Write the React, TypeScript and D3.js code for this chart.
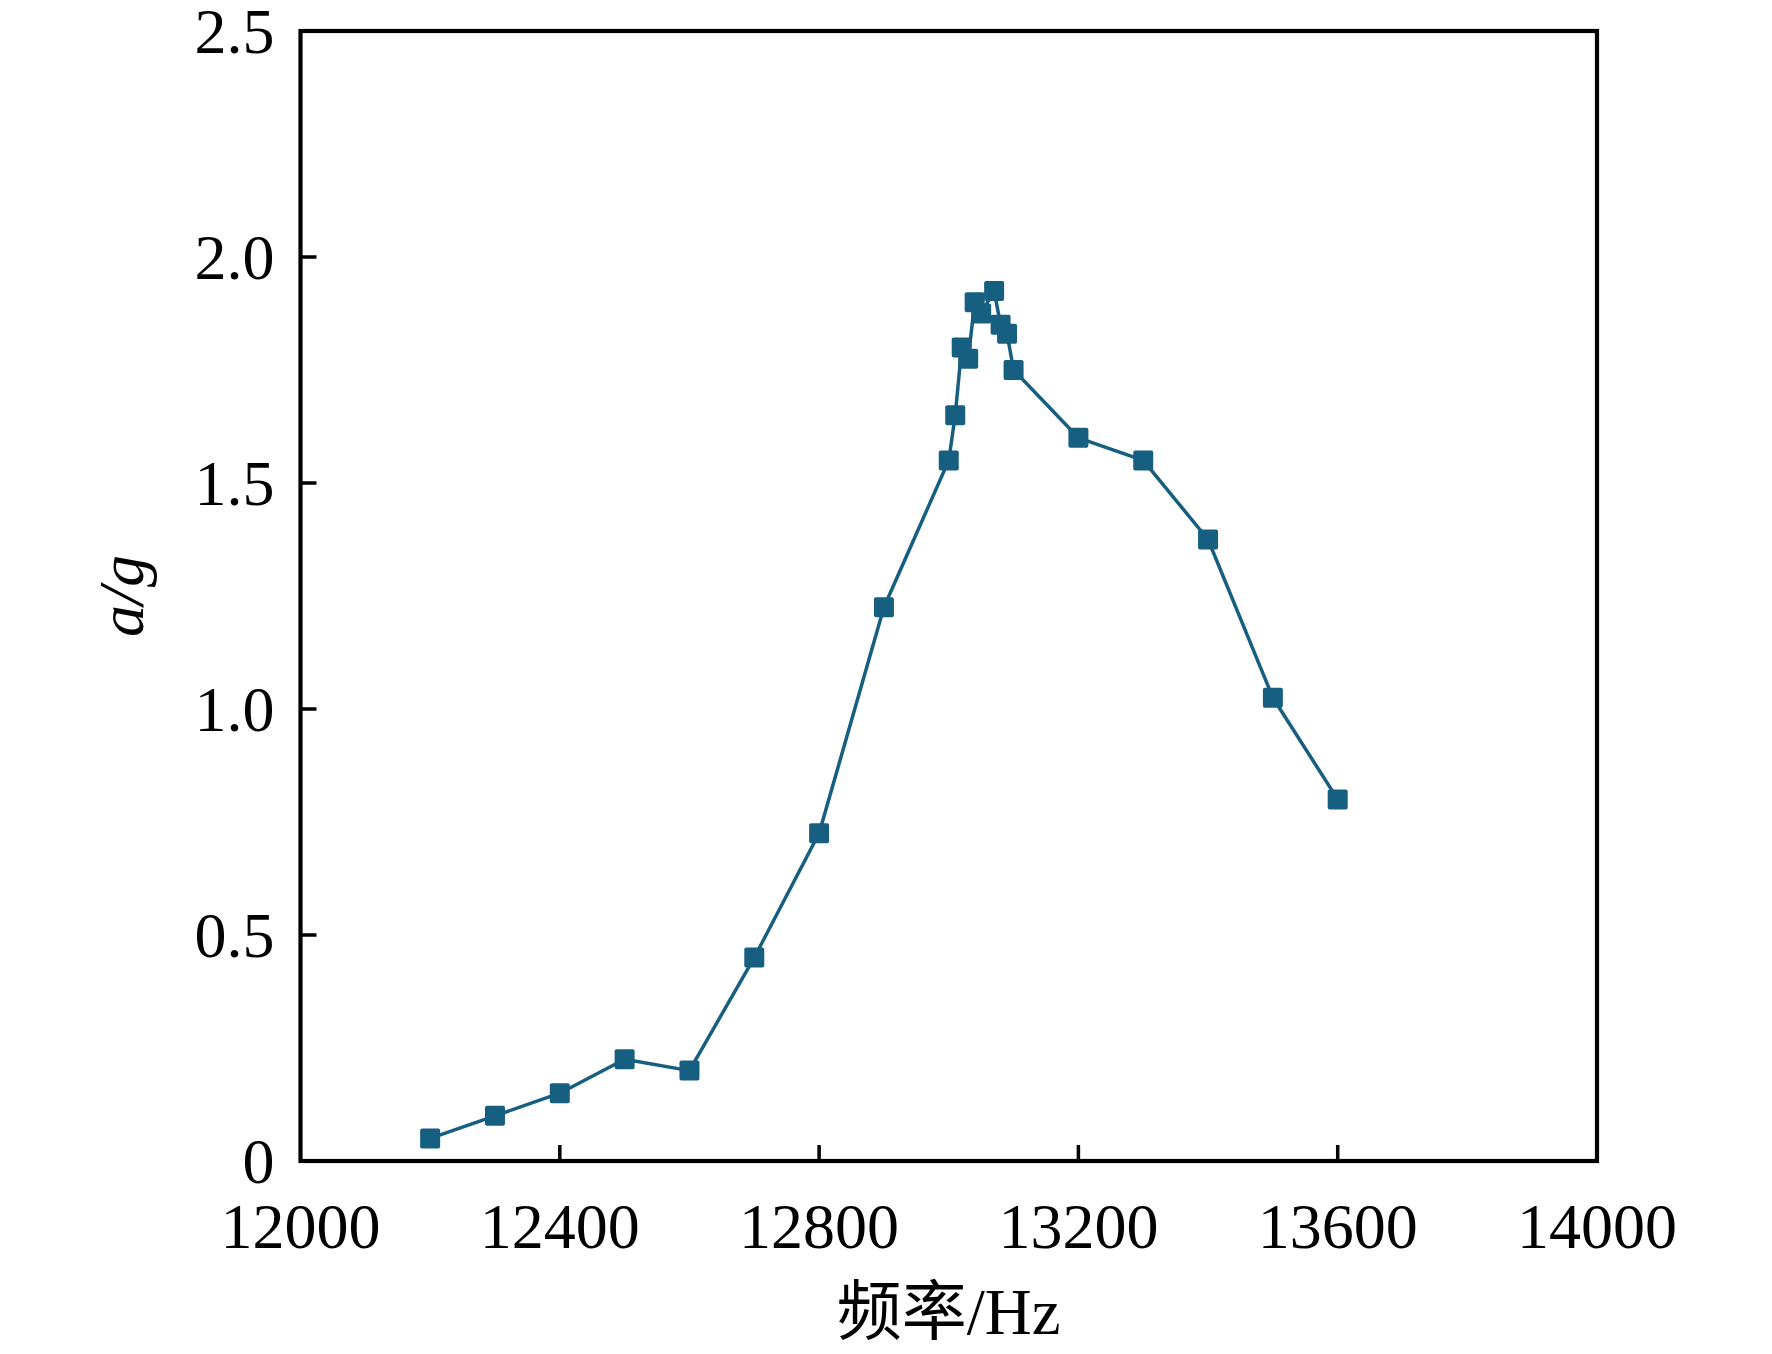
import { useEffect, useRef } from "react";
import * as d3 from "d3";

const freq = [
	12200, 12300, 12400, 12500, 12600, 12700, 12800, 12900, 13000, 13010, 13020,
	13030, 13040, 13050, 13070, 13080, 13090, 13100, 13200, 13300, 13400, 13500,
	13600,
];
const accel = [
	0.05, 0.1, 0.15, 0.225, 0.2, 0.45, 0.725, 1.225, 1.55, 1.65, 1.8, 1.775, 1.9,
	1.875, 1.925, 1.85, 1.83, 1.75, 1.6, 1.55, 1.375, 1.025, 0.8,
];
const xTicks = [12000, 12400, 12800, 13200, 13600, 14000];
const yTicks = [0, 0.5, 1.0, 1.5, 2.0, 2.5];

const width = 1772;
const height = 1354;
const margin = { top: 31, right: 175, bottom: 193, left: 300.5 };
const color = "#175f80";
const serif = '"Liberation Serif", "Times New Roman", "Noto Sans CJK SC", serif';

export default function App() {
	const svgRef = useRef<SVGSVGElement>(null);

	useEffect(() => {
		if (!svgRef.current) return;
		const svg = d3.select(svgRef.current);
		svg.selectAll("*").remove();

		const x0 = margin.left;
		const x1 = width - margin.right;
		const y0 = height - margin.bottom;
		const y1 = margin.top;

		const x = d3.scaleLinear().domain([12000, 14000]).range([x0, x1]);
		const y = d3.scaleLinear().domain([0, 2.5]).range([y0, y1]);

		const points = freq.map((f, i) => [f, accel[i]] as [number, number]);

		// frame
		svg.append("rect")
			.attr("x", x0)
			.attr("y", y1)
			.attr("width", x1 - x0)
			.attr("height", y0 - y1)
			.attr("fill", "none")
			.attr("stroke", "#000")
			.attr("stroke-width", 4.2);

		// inward ticks
		const tickLen = 16;
		svg.append("g")
			.selectAll("line")
			.data(xTicks.slice(1, -1))
			.join("line")
			.attr("x1", (d) => x(d))
			.attr("x2", (d) => x(d))
			.attr("y1", y0)
			.attr("y2", y0 - tickLen)
			.attr("stroke", "#000")
			.attr("stroke-width", 3.5);

		svg.append("g")
			.selectAll("line")
			.data(yTicks.slice(1, -1))
			.join("line")
			.attr("x1", x0)
			.attr("x2", x0 + tickLen)
			.attr("y1", (d) => y(d))
			.attr("y2", (d) => y(d))
			.attr("stroke", "#000")
			.attr("stroke-width", 3.5);

		// tick labels
		svg.append("g")
			.selectAll("text")
			.data(xTicks)
			.join("text")
			.attr("x", (d) => x(d))
			.attr("y", 1248)
			.attr("text-anchor", "middle")
			.attr("font-family", serif)
			.attr("font-size", 64)
			.text((d) => String(d));

		svg.append("g")
			.selectAll("text")
			.data(yTicks)
			.join("text")
			.attr("x", x0 - 26)
			.attr("y", (d) => y(d))
			.attr("dy", "0.34em")
			.attr("text-anchor", "end")
			.attr("font-family", serif)
			.attr("font-size", 64)
			.text((d) => (d === 0 ? "0" : d.toFixed(1)));

		// axis titles
		svg.append("text")
			.attr("x", (x0 + x1) / 2)
			.attr("y", 1334)
			.attr("text-anchor", "middle")
			.attr("font-family", serif)
			.attr("font-size", 65)
			.text("频率/Hz");

		svg.append("text")
			.attr("transform", `translate(143,${(y0 + y1) / 2}) rotate(-90)`)
			.attr("text-anchor", "middle")
			.attr("font-family", serif)
			.attr("font-size", 64)
			.attr("font-style", "italic")
			.text("a/g");

		// series
		const line = d3
			.line<[number, number]>()
			.x((d) => x(d[0]))
			.y((d) => y(d[1]));

		svg.append("path")
			.datum(points)
			.attr("fill", "none")
			.attr("stroke", color)
			.attr("stroke-width", 3.5)
			.attr("stroke-linejoin", "round")
			.attr("d", line);

		const size = 20;
		svg.append("g")
			.selectAll("rect")
			.data(points)
			.join("rect")
			.attr("x", (d) => x(d[0]) - size / 2)
			.attr("y", (d) => y(d[1]) - size / 2)
			.attr("width", size)
			.attr("height", size)
			.attr("rx", 2)
			.attr("fill", color);
	}, []);

	return (
		<div style={{ position: "absolute", left: 0, top: 0 }}>
			<svg ref={svgRef} width={width} height={height} style={{ display: "block", background: "#fff" }} />
		</div>
	);
}
